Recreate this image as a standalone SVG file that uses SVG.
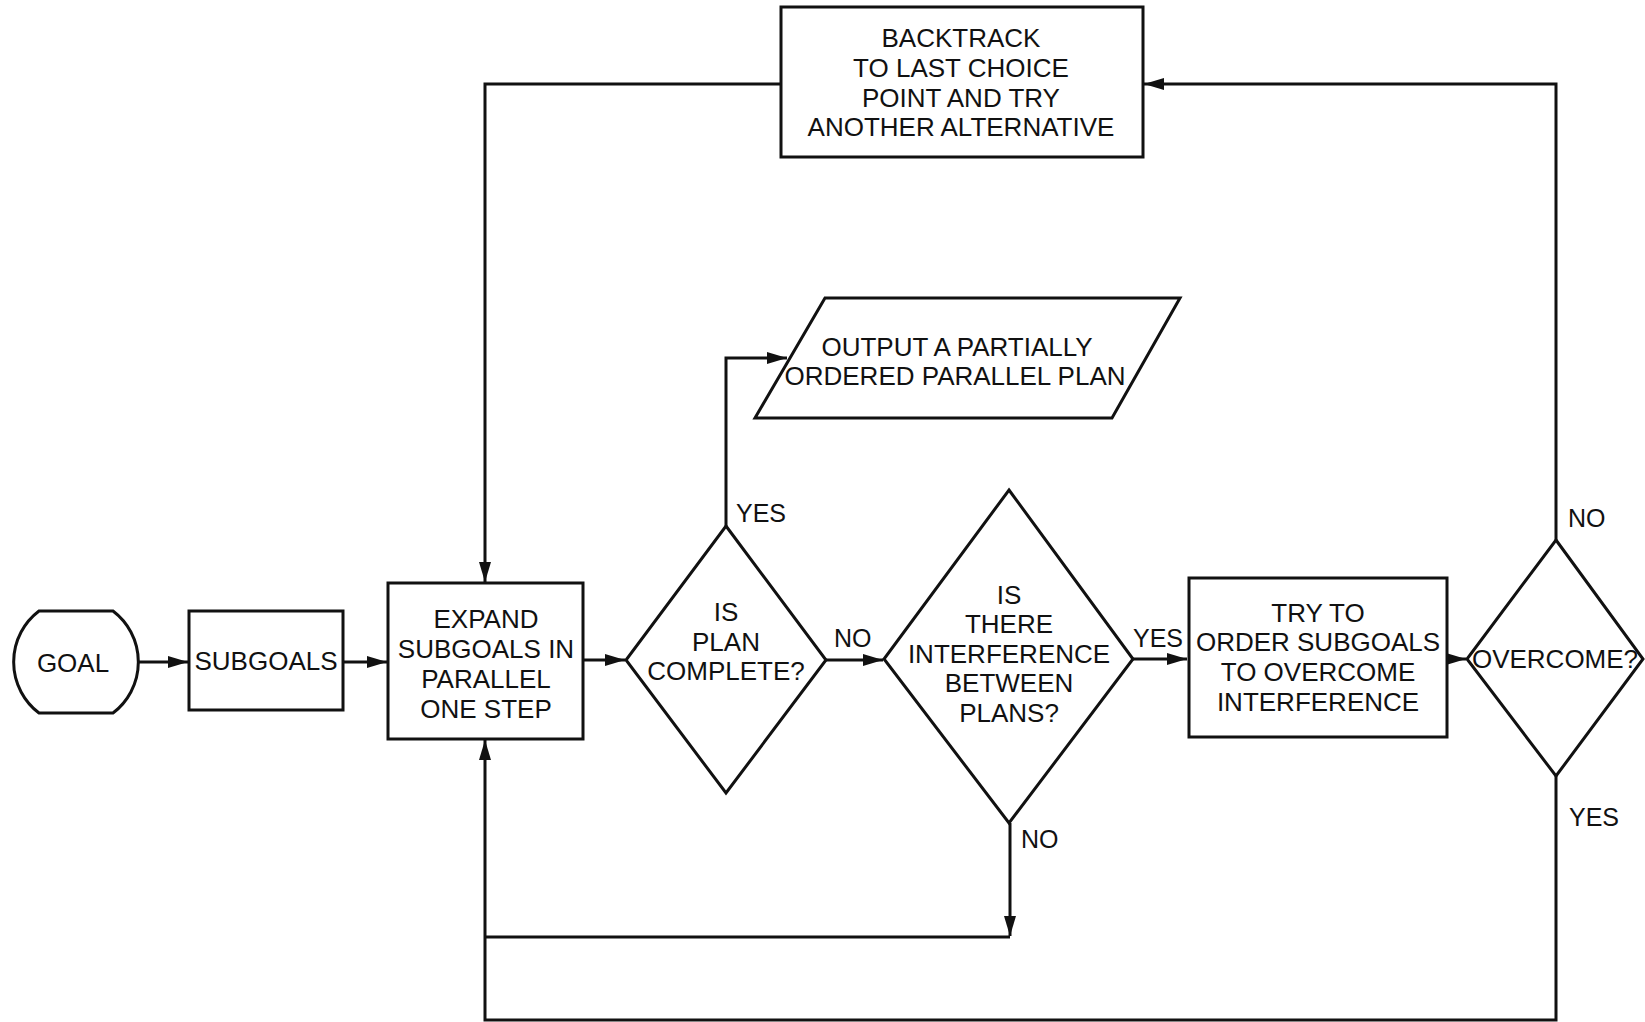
<svg xmlns="http://www.w3.org/2000/svg" width="1645" height="1022" viewBox="0 0 1645 1022">
<defs>
<style>
.s{fill:#fff;stroke:#111;stroke-width:3}
.t{font-family:"Liberation Sans",Arial,sans-serif;font-size:26px;fill:#111;text-anchor:middle}
.l{font-family:"Liberation Sans",Arial,sans-serif;font-size:25px;fill:#111}
.c{fill:none;stroke:#111;stroke-width:3}
.a{marker-end:url(#ah)}
</style>
<marker id="ah" markerUnits="userSpaceOnUse" markerWidth="22" markerHeight="14" refX="20" refY="6" orient="auto">
<path d="M0,0 L20,6 L0,12 Z" fill="#111"/>
</marker>
</defs>
<rect width="1645" height="1022" fill="#fff"/>
<g id="connectors">
<path class="c a" d="M137,662 H188"/>
<path class="c a" d="M343,662 H387"/>
<path class="c a" d="M583,660 H625"/>
<path class="c a" d="M726,526 V358 H787"/>
<path class="c a" d="M826,660 H883"/>
<path class="c a" d="M1133,659 H1187"/>
<path class="c a" d="M1447,659 H1466"/>
<path class="c a" d="M1010,823 V936"/>
<path class="c" d="M1010,937 H485"/>
<path class="c a" d="M1556,776 V1020 H485 V740"/>
<path class="c a" d="M1556,540 V84 H1144"/>
<path class="c a" d="M780,84 H485 V582"/>
</g>
<g id="goal">
<path class="s" d="M39,611 L113,611 A64,64 0 0 1 113,713 L39,713 A64,64 0 0 1 39,611 Z"/>
<text class="t" x="73" y="672">GOAL</text>
</g>
<g id="subgoals">
<rect class="s" x="189" y="611" width="154" height="99"/>
<text class="t" x="266" y="670">SUBGOALS</text>
</g>
<g id="expand">
<rect class="s" x="388" y="583" width="195" height="156"/>
<text class="t" x="486" y="628">EXPAND</text>
<text class="t" x="486" y="658">SUBGOALS IN</text>
<text class="t" x="486" y="688">PARALLEL</text>
<text class="t" x="486" y="718">ONE STEP</text>
</g>
<g id="plan-complete">
<path class="s" d="M726,526 L826,660 L726,793 L626,660 Z"/>
<text class="t" x="726" y="621">IS</text>
<text class="t" x="726" y="651">PLAN</text>
<text class="t" x="726" y="680">COMPLETE?</text>
<text class="l" x="736" y="522">YES</text>
<text class="l" x="834" y="647">NO</text>
</g>
<g id="output">
<path class="s" d="M825,298 L1180,298 L1112,418 L755,418 Z"/>
<text class="t" x="957" y="356">OUTPUT A PARTIALLY</text>
<text class="t" x="955" y="385">ORDERED PARALLEL PLAN</text>
</g>
<g id="interference">
<path class="s" d="M1009,490 L1133,659 L1009,823 L884,659 Z"/>
<text class="t" x="1009" y="604">IS</text>
<text class="t" x="1009" y="633">THERE</text>
<text class="t" x="1009" y="663">INTERFERENCE</text>
<text class="t" x="1009" y="692">BETWEEN</text>
<text class="t" x="1009" y="722">PLANS?</text>
<text class="l" x="1021" y="848">NO</text>
<text class="l" x="1133" y="647">YES</text>
</g>
<g id="try-order">
<rect class="s" x="1189" y="578" width="258" height="159"/>
<text class="t" x="1318" y="622">TRY TO</text>
<text class="t" x="1318" y="651">ORDER SUBGOALS</text>
<text class="t" x="1318" y="681">TO OVERCOME</text>
<text class="t" x="1318" y="711">INTERFERENCE</text>
</g>
<g id="overcome">
<path class="s" d="M1556,540 L1643,659 L1556,776 L1467,659 Z"/>
<text class="t" x="1555" y="668">OVERCOME?</text>
<text class="l" x="1568" y="527">NO</text>
<text class="l" x="1569" y="826">YES</text>
</g>
<g id="backtrack">
<rect class="s" x="781" y="7" width="362" height="150"/>
<text class="t" x="961" y="47">BACKTRACK</text>
<text class="t" x="961" y="77">TO LAST CHOICE</text>
<text class="t" x="961" y="107">POINT AND TRY</text>
<text class="t" x="961" y="136">ANOTHER ALTERNATIVE</text>
</g>
</svg>
